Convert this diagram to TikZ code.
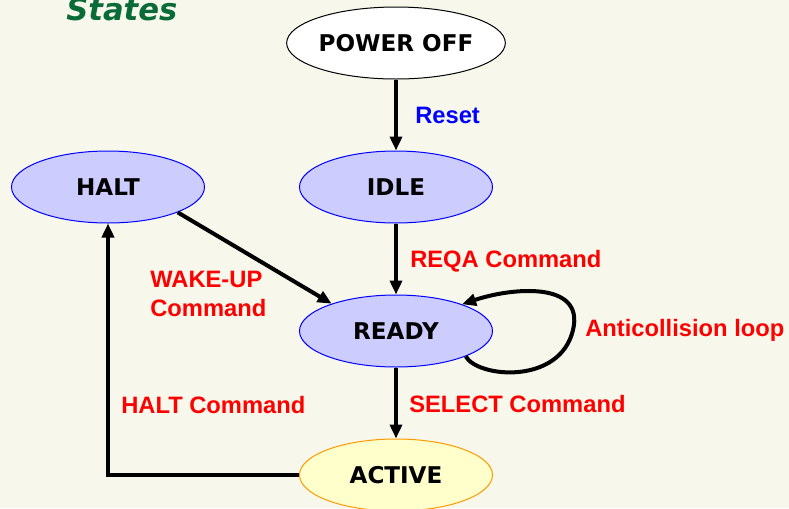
\documentclass[tikz,border=0pt]{standalone}
\usepackage{fontspec}
\setmainfont{Liberation Sans}
\newfontfamily\statefont{DejaVu Sans}
\usetikzlibrary{arrows.meta, shapes.geometric}
\definecolor{bgcream}{HTML}{F7F8EB}
\definecolor{blueedge}{HTML}{0000FF}
\definecolor{bluefill}{HTML}{CCCCFF}
\definecolor{yellowfill}{HTML}{FFFFCC}
\definecolor{orangeedge}{HTML}{FF9900}
\definecolor{titlegreen}{HTML}{0B6B38}
\definecolor{lblred}{HTML}{FF0000}
\definecolor{lblblue}{HTML}{0000FF}

\begin{document}
\begin{tikzpicture}[x=0.75pt, y=-0.75pt,
      statenode/.style={ellipse, draw=blueedge, fill=bluefill, line width=0.75pt,
        minimum width=144.75pt, minimum height=54pt, inner sep=0pt,
        font=\statefont\bfseries\fontsize{17.3}{20}\selectfont},
      lbl/.style={anchor=west, inner sep=0pt, text=lblred, align=left,
        font=\bfseries\fontsize{17.8}{21.75}\selectfont},
      arr/.style={line width=3pt, -{Triangle[length=10.5pt, width=9pt]}}]
      \clip (0, 0) rectangle (789, 508);
      \fill[bgcream] (0, 0) rectangle (789, 508);
      \node[anchor=base west, inner sep=0pt, text=titlegreen,
        font=\statefont\bfseries\itshape\fontsize{23}{28}\selectfont] (title) at (66, 20) {States};

      % states
      \node[statenode, draw=black, fill=white] (poweroff) at (396, 43) {POWER OFF};
      \node[statenode] (idle) at (396, 187) {IDLE};
      \node[statenode] (halt) at (108, 187) {HALT};
      \node[statenode] (ready) at (396, 331) {READY};
      \node[statenode, draw=orangeedge, fill=yellowfill] (active) at (396, 475) {ACTIVE};

      % transitions
      \draw[arr] (poweroff) -- (idle);
      \draw[arr] (idle) -- (ready);
      \draw[arr] (halt.-20) -- (ready.157);
      \draw[arr] (ready) -- (active);
      \draw[arr] (active.west) -| (halt.south);
      \draw[arr] (ready.-20) .. controls (478, 378) and (560, 385) .. (573, 330)
        .. controls (585, 280) and (510, 288) .. (ready.22);

      \node[lbl, text=lblblue] (reset) at (415, 115) {Reset};
      \node[lbl] (reqa) at (410, 261) {REQA Command};
      \node[lbl] (wakeup) at (150, 293.5) {WAKE-UP\\Command};
      \node[lbl] (haltcmd) at (121, 405) {HALT Command};
      \node[lbl] (select) at (409, 404) {SELECT Command};
      \node[lbl] (anticoll) at (585, 330) {Anticollision loop};
    \end{tikzpicture}
\end{document}
